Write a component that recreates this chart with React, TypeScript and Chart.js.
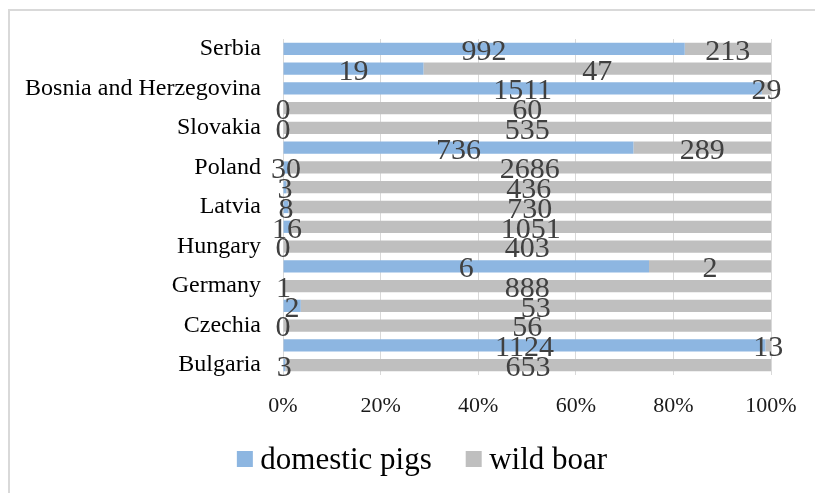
import React, { useEffect, useRef } from "react";
import { Chart, registerables } from "chart.js";

Chart.register(...registerables);

// ASF outbreaks per country, listed top to bottom (every other row is unlabelled)
const countries = [
  "Serbia", "", "Bosnia and Herzegovina", "", "Slovakia", "", "Poland", "",
  "Latvia", "", "Hungary", "", "Germany", "", "Czechia", "", "Bulgaria",
];
const domesticPigs = [992, 19, 1511, 0, 0, 736, 30, 3, 8, 16, 0, 6, 1, 2, 0, 1124, 3];
const wildBoar = [213, 47, 29, 60, 535, 289, 2686, 436, 730, 1051, 403, 2, 888, 53, 56, 13, 653];
const seriesNames = ["domestic pigs", "wild boar"];
const seriesColors = ["#8DB6E1", "#BFBFBF"];
const percentTicks = [0, 20, 40, 60, 80, 100];

const SERIF = "'Liberation Serif', 'Times New Roman', serif";

// share of a row's total, in percent (100% stacked bars)
const share = (values: number[]) =>
  values.map((v, i) => {
    const total = domesticPigs[i] + wildBoar[i];
    return total ? (v / total) * 100 : 0;
  });

// raw counts written in the middle of each segment
const valueLabels = {
  id: "valueLabels",
  afterDatasetsDraw(chart: any) {
    const ctx = chart.ctx;
    ctx.save();
    ctx.font = `30px ${SERIF}`;
    ctx.fillStyle = "#404040";
    ctx.textAlign = "center";
    ctx.textBaseline = "middle";
    chart.data.datasets.forEach((ds: any, di: number) => {
      const meta = chart.getDatasetMeta(di);
      meta.data.forEach((bar: any, i: number) => {
        const { x, base, y } = bar.getProps(["x", "base", "y"], true);
        ctx.fillText(String(ds.counts[i]), (x + base) / 2, y + 3);
      });
    });
    ctx.restore();
  },
};

// single-row legend under the axis
const legendRow = {
  id: "legendRow",
  afterDraw(chart: any) {
    const ctx = chart.ctx;
    const box = 16;
    const gap = 7.5;
    const itemGap = 34;
    const centerX = 422;
    const centerY = 459;
    ctx.save();
    ctx.font = `31px ${SERIF}`;
    const items = chart.data.datasets.map((ds: any) => ({
      text: ds.label,
      color: ds.backgroundColor,
      w: ctx.measureText(ds.label).width,
    }));
    const total =
      items.reduce((s: number, it: any) => s + box + gap + it.w, 0) + itemGap * (items.length - 1);
    let x = centerX - total / 2;
    ctx.textBaseline = "alphabetic";
    ctx.textAlign = "left";
    items.forEach((it: any) => {
      ctx.fillStyle = it.color;
      ctx.fillRect(x, centerY - box / 2, box, box);
      ctx.fillStyle = "#000000";
      ctx.fillText(it.text, x + box + gap, centerY + 10);
      x += box + gap + it.w + itemGap;
    });
    ctx.restore();
  },
};

export default function App() {
  const canvasRef = useRef<HTMLCanvasElement | null>(null);

  useEffect(() => {
    if (!canvasRef.current) return;
    const chart = new Chart(canvasRef.current, {
      type: "bar",
      data: {
        labels: countries,
        datasets: [
          {
            label: seriesNames[0],
            data: share(domesticPigs),
            counts: domesticPigs,
            backgroundColor: seriesColors[0],
            barPercentage: 0.62,
            categoryPercentage: 1,
          } as any,
          {
            label: seriesNames[1],
            data: share(wildBoar),
            counts: wildBoar,
            backgroundColor: seriesColors[1],
            barPercentage: 0.62,
            categoryPercentage: 1,
          } as any,
        ],
      },
      options: {
        indexAxis: "y",
        responsive: false,
        animation: false,
        layout: { padding: { left: 0, right: 44, top: 39, bottom: 80 } },
        plugins: {
          legend: { display: false },
          tooltip: { enabled: false },
        },
        scales: {
          x: {
            stacked: true,
            min: 0,
            max: 100,
            grid: { color: "#D9D9D9", lineWidth: 1, drawTicks: false },
            border: { display: false },
            afterBuildTicks(scale: any) {
              scale.ticks = percentTicks.map((v) => ({ value: v }));
            },
            ticks: {
              padding: 18,
              color: "#1a1a1a",
              font: { family: SERIF, size: 22 },
              callback: (v: any) => `${v}%`,
            },
            afterFit(scale: any) {
              scale.height = 38;
            },
          },
          y: {
            stacked: true,
            grid: { display: false, drawTicks: false },
            border: { display: false },
            ticks: {
              autoSkip: false,
              padding: 22,
              color: "#000000",
              font: { family: SERIF, size: 24 },
            },
            afterFit(scale: any) {
              scale.width = 283;
            },
          },
        },
      },
      plugins: [valueLabels, legendRow],
    });
    return () => chart.destroy();
  }, []);

  return (
    <div
      style={{
        position: "absolute",
        left: 0,
        top: 0,
        width: 815,
        height: 493,
        overflow: "hidden",
        background: "#ffffff",
      }}
    >
      <div
        style={{
          position: "absolute",
          left: 8,
          top: 9,
          width: 900,
          height: 600,
          border: "2px solid #D9D9D9",
        }}
      />
      <canvas
        ref={canvasRef}
        width={815}
        height={493}
        style={{ position: "absolute", left: 0, top: 0, width: 815, height: 493 }}
      />
    </div>
  );
}
